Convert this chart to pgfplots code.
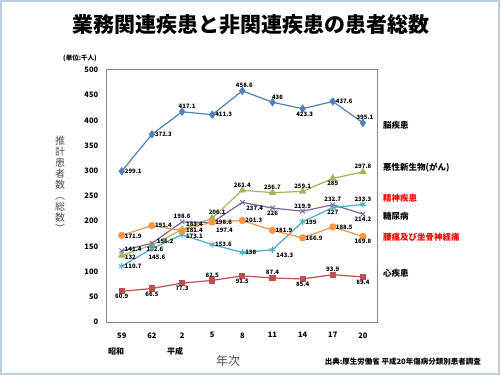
\documentclass[border=0pt]{standalone}
\usepackage{pgfplots}
\pgfplotsset{compat=1.18}
\usepackage{fontspec}
\setmainfont{Noto Sans CJK JP}
\definecolor{cA}{HTML}{4F81BD}
\definecolor{cB}{HTML}{C0504D}
\definecolor{cC}{HTML}{9BBB59}
\definecolor{cD}{HTML}{8064A2}
\definecolor{cE}{HTML}{4BACC6}
\definecolor{cF}{HTML}{F79646}
\definecolor{frame}{HTML}{B9CDE5}
\definecolor{axgray}{HTML}{868686}
\begin{document}
\begin{tikzpicture}[x=1pt,y=1pt]
\path[use as bounding box] (0,0) rectangle (500,375);
\fill[white] (0,0) rectangle (500,375);
\draw[color=frame,line width=2pt] (1,1) rectangle (499,374);
\node[font=\bfseries\fontsize{21}{21}\selectfont] at (251,350) {業務関連疾患と非関連疾患の患者総数};
\node[font=\bfseries\fontsize{6.5}{7}\selectfont, anchor=west, inner sep=0] at (63,317) {(単位:千人)};
\begin{axis}[
  at={(106.7pt,53pt)}, anchor=south west,
  width=271.3pt, height=252pt, scale only axis,
  xmin=-0.5, xmax=8.5, ymin=0, ymax=500,
  ytick={0,50,...,500},
  xtick={0,...,8},
  xticklabels={59,62,2,5,8,11,14,17,20},
  major tick length=0pt,
  axis line style={axgray, line width=1pt},
  /pgf/number format/assume math mode=true,
  tick label style={font=\bfseries\fontsize{7.5}{8}\selectfont, text=black},
  yticklabel style={xshift=-5pt},
  xticklabel style={yshift=-7pt},
  every node near coord/.append style={font=\bfseries\fontsize{6}{6}\selectfont, text=black, inner sep=1.5pt},
  nodes near coords={\pgfmathprintnumber{\pgfplotspointmeta}},
  visualization depends on={value \thisrow{a}\as\anc},
  visualization depends on={value \thisrow{dx}\as\ddx},
  visualization depends on={value \thisrow{dy}\as\ddy},
  every node near coord/.append style={anchor=\anc, xshift=\ddx pt, yshift=\ddy pt},
  clip=false,
]
\addplot[cA, line width=1.2pt, mark=diamond*, mark size=3.3pt, mark options={solid}] table[x=x,y=y]{
x y a dx dy
0 299.1 west 1 0
1 372.3 west 1 0
2 417.1 south 5 1
3 411.3 west 1 0
4 458.6 south 2 1
5 436 south 5 1
6 423.3 north 2 -1
7 437.6 west 1 0
8 395.1 south 2 1
};
\addplot[cB, line width=1.2pt, mark=square*, mark size=2.5pt, mark options={solid}] table[x=x,y=y]{
x y a dx dy
0 60.9 north 0 -1
1 66.5 north 0 -1
2 77.3 north 0 -1
3 82.5 south 0 1
4 91.5 north 0 -1
5 87.4 south 0 1
6 85.4 north 0 -1
7 93.9 south 0 1
8 89.4 north 0 -1
};
\addplot[cC, line width=1.2pt, mark=triangle*, mark size=3.2pt, mark options={solid}] table[x=x,y=y]{
x y a dx dy
0 132 west 1 -1.5
1 152.6 north 3 0
2 183.4 west 2 5.5
3 206.1 south 5 1
4 261.4 south 0 1
5 256.7 south 0 1
6 259.1 south 0 1
7 285 north 0 -1
8 297.8 south 0 1
};
\addplot[cD, line width=1.2pt, mark=x, mark size=3.3pt, mark options={solid, line width=0.9pt}] table[x=x,y=y]{
x y a dx dy
0 141.4 west 1 1.5
1 156.2 west 3 2
2 198.6 south 0 1
3 197.4 west 2 -8
4 237.4 west 2 -6
5 226 north 0 -1
6 219.9 south 0 1
7 232.7 south 0 1
8 214.2 north 0 -1
};
\addplot[cE, line width=1.2pt, mark=asterisk, mark size=3.3pt, mark options={solid, line width=0.9pt}] table[x=x,y=y]{
x y a dx dy
0 110.7 west 1 0
1 145.6 north 5 -4
2 173.1 west 2 -1.5
3 153.6 west 1 0
4 138 west 1 0
5 143.3 west 2 -6
6 199 west 1 -1
7 227 north 0 -1
8 233.3 south 0 1
};
\addplot[cF, line width=1.2pt, mark=*, mark size=3pt, mark options={solid}] table[x=x,y=y]{
x y a dx dy
0 171.9 west 1 -1
1 191.4 west 1 0
2 181.4 west 2 0
3 198.6 west 1 0
4 201.3 west 1 0
5 181.9 west 1 0
6 166.9 west 1 0
7 188.5 west 1 0
8 169.8 north 0 -1
};
\end{axis}
\begin{scope}[every node/.style={anchor=west, inner sep=0, font=\bfseries\fontsize{8.5}{8.5}\selectfont}]
\node at (383,250) {脳疾患};
\node at (383,207) {悪性新生物(がん)};
\node[text=red] at (383,177) {精神疾患};
\node at (383,159) {糖尿病};
\node[text=red] at (383,138) {腰痛及び坐骨神経痛};
\node at (383,102) {心疾患};
\end{scope}
\node[font=\bfseries\fontsize{8}{8}\selectfont] at (116,24) {昭和};
\node[font=\bfseries\fontsize{8}{8}\selectfont] at (175,24) {平成};
\node[font=\fontsize{12}{12}\selectfont, text=black!70] at (228,14) {年次};
\node[font=\bfseries\fontsize{7.5}{8}\selectfont, anchor=east, inner sep=0] at (481,13) {出典:厚生労働省\ 平成20年傷病分類別患者調査};
\node[font=\fontsize{10}{11}\selectfont, text=black!70, align=center] at (60,191) {推\\計\\患\\者\\数\\︵\\総\\数\\︶};
\end{tikzpicture}
\end{document}
